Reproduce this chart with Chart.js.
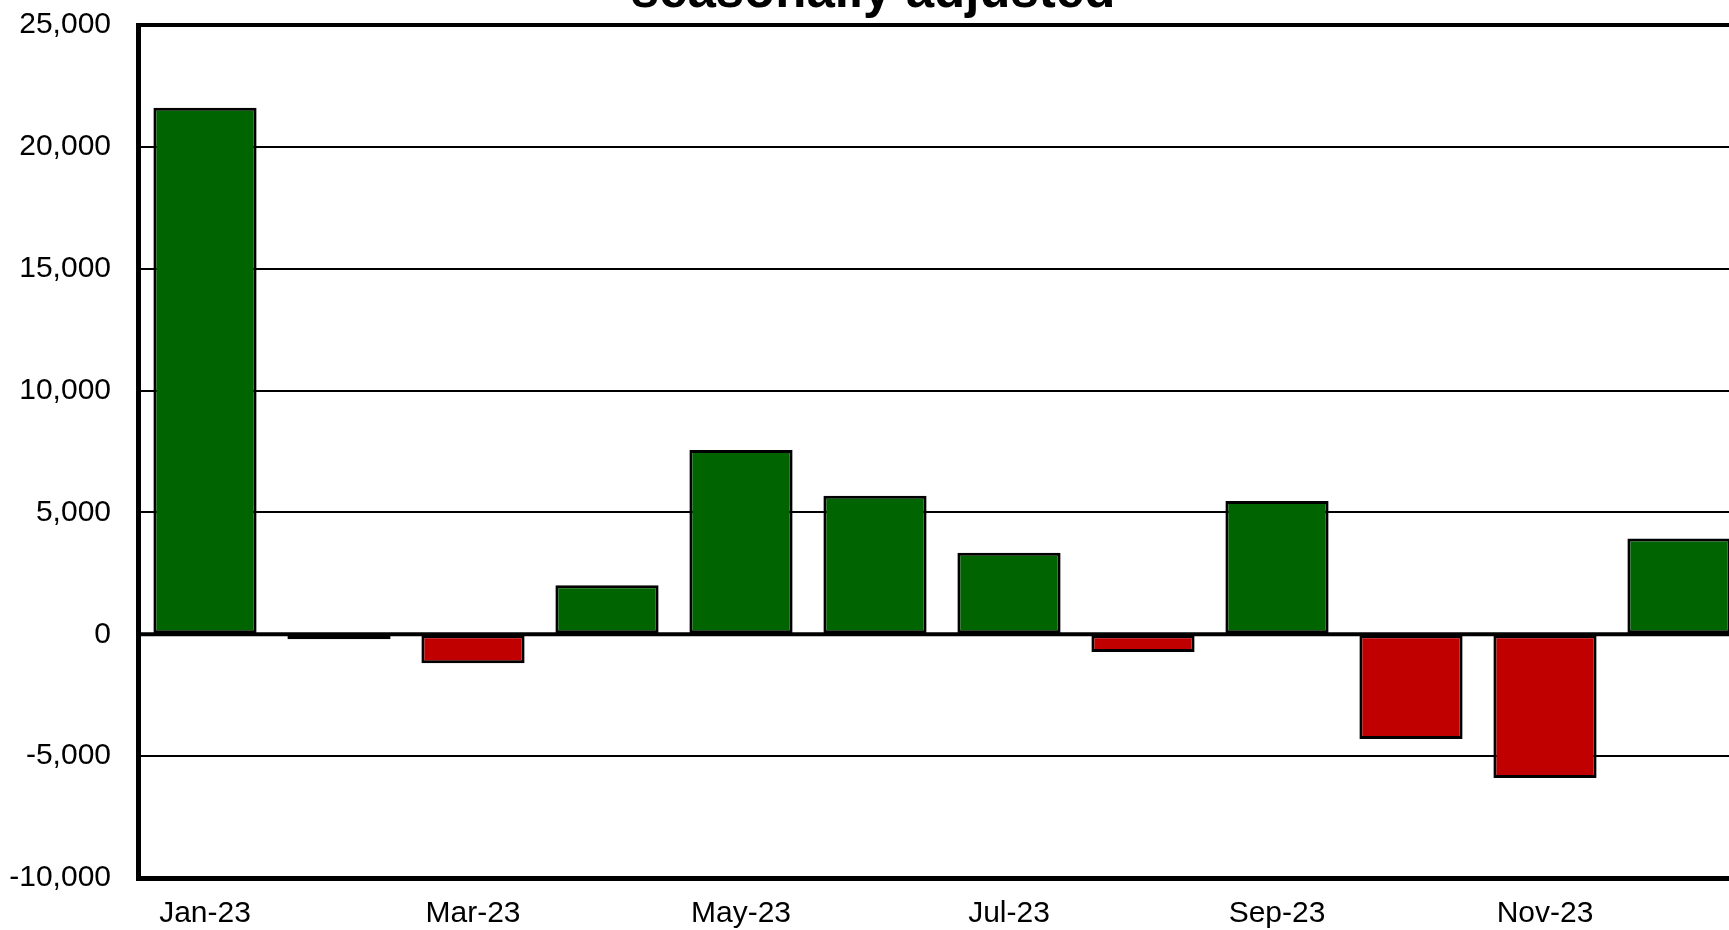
<!DOCTYPE html>
<html>
<head>
<meta charset="utf-8">
<script src="https://cdn.jsdelivr.net/npm/chart.js@4"></script>
<style>
    body { margin: 0; overflow: hidden; background: #ffffff; }
    #wrap { position: absolute; left: 0; top: -60px; }
</style>
</head>
<body>
<div id="wrap">
    <canvas id="changeChart" width="1754" height="1000"></canvas>
</div>
<script>
// monthly change
var months = ["Jan-23", "Feb-23", "Mar-23", "Apr-23", "May-23", "Jun-23", "Jul-23", "Aug-23", "Sep-23", "Oct-23", "Nov-23", "Dec-23"];
var changes = [21600, -200, -1190, 2010, 7560, 5680, 3350, -730, 5470, -4300, -5900, 3930];
var yTicks = [-10000, -5000, 0, 5000, 10000, 15000, 20000, 25000];
var titleText = "seasonally adjusted";

var upColor = "#006400";
var downColor = "#C00000";

var barColors = changes.map(function (v) { return v < 0 ? downColor : upColor; });

// zero line sits on top of the bars, and the top frame line is as heavy as the axes
var frameLines = {
    id: "frameLines",
    afterDatasetsDraw: function (chart) {
        var ctx = chart.ctx;
        var area = chart.chartArea;
        var yScale = chart.scales.y;
        ctx.save();
        ctx.strokeStyle = "#000000";
        ctx.lineWidth = 4;
        [0, yTicks[yTicks.length - 1]].forEach(function (v) {
            var y = yScale.getPixelForValue(v);
            ctx.beginPath();
            ctx.moveTo(area.left - 2, y);
            ctx.lineTo(area.right, y);
            ctx.stroke();
        });
        ctx.restore();
    }
};

var font = "'Liberation Sans', Arial, sans-serif";

var changeChart = new Chart(document.getElementById("changeChart").getContext("2d"), {
    type: "bar",
    data: {
        labels: months,
        datasets: [{
            data: changes,
            backgroundColor: barColors,
            borderColor: "#000000",
            borderWidth: 3,
            borderSkipped: false,
            categoryPercentage: 1,
            barPercentage: 0.77
        }]
    },
    options: {
        responsive: false,
        animation: false,
        layout: { padding: { top: 22, right: 8, bottom: 0, left: 0 } },
        plugins: {
            legend: { display: false },
            tooltip: { enabled: false },
            title: {
                display: true,
                text: titleText,
                color: "#000000",
                font: { family: font, size: 51, weight: "bold", lineHeight: 1.2 },
                padding: { top: 0, bottom: 1.8 }
            }
        },
        scales: {
            x: {
                grid: { display: false, drawTicks: false },
                border: { display: true, color: "#000000", width: 5 },
                ticks: {
                    autoSkip: false,
                    maxRotation: 0,
                    padding: 18,
                    color: "#000000",
                    font: { family: font, size: 30 },
                    callback: function (val, index) {
                        return index % 2 === 0 ? this.getLabelForValue(val) : "";
                    }
                },
                afterFit: function (scale) { scale.height = 62; }
            },
            y: {
                min: yTicks[0],
                max: yTicks[yTicks.length - 1],
                afterBuildTicks: function (scale) {
                    scale.ticks = yTicks.map(function (v) { return { value: v }; });
                },
                grid: {
                    color: "#000000",
                    drawTicks: false,
                    lineWidth: 2
                },
                border: { display: true, color: "#000000", width: 5 },
                ticks: {
                    padding: 27,
                    color: "#000000",
                    font: { family: font, size: 30 },
                    callback: function (v) { return Number(v).toLocaleString("en-US"); }
                },
                afterFit: function (scale) { scale.width = 138; }
            }
        }
    },
    plugins: [frameLines]
});
</script>
</body>
</html>
